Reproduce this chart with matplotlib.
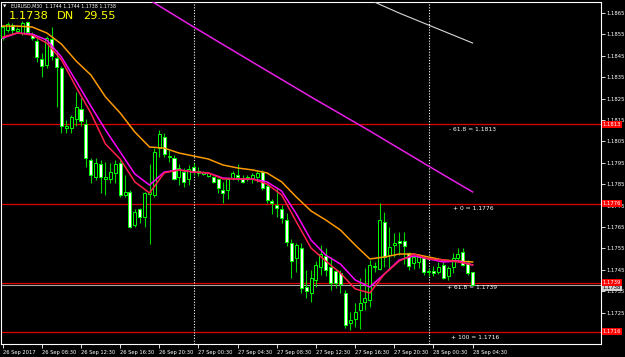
import matplotlib
matplotlib.use("Agg")
import matplotlib.pyplot as plt
import numpy as np

# EURUSD M30, 26 Sep 04:30 .. 28 Sep 04:30 (97 barras)
opens = [1.18533, 1.18571, 1.18594, 1.18566, 1.18557, 1.18608, 1.18552, 1.18519, 1.18435, 1.18407,
         1.18529, 1.18440, 1.18393, 1.18113, 1.18113, 1.18155, 1.18202, 1.18131, 1.17963, 1.17884,
         1.17945, 1.17875, 1.17875, 1.17903, 1.17949, 1.17800, 1.17814, 1.17660, 1.17734, 1.17697,
         1.17804, 1.17800, 1.18019, 1.18071, 1.17977, 1.17973, 1.17884, 1.17907, 1.17875, 1.17931,
         1.17903, 1.17898, 1.17889, 1.17884, 1.17875, 1.17823, 1.17823, 1.17879, 1.17893, 1.17875,
         1.17875, 1.17875, 1.17884, 1.17907, 1.17842, 1.17772, 1.17753, 1.17734, 1.17683, 1.17575,
         1.17505, 1.17552, 1.17370, 1.17342, 1.17403, 1.17463, 1.17515, 1.17463, 1.17445, 1.17435,
         1.17342, 1.17202, 1.17220, 1.17262, 1.17300, 1.17309, 1.17463, 1.17454, 1.17674, 1.17519,
         1.17566, 1.17585, 1.17585, 1.17529, 1.17482, 1.17487, 1.17505, 1.17440, 1.17445, 1.17440,
         1.17473, 1.17421, 1.17463, 1.17505, 1.17533, 1.17482, 1.17440]
highs = [1.18594, 1.18608, 1.18604, 1.18585, 1.18613, 1.18613, 1.18561, 1.18533, 1.18463, 1.18543,
         1.18585, 1.18477, 1.18403, 1.18150, 1.18174, 1.18281, 1.18253, 1.18155, 1.17973, 1.17973,
         1.17963, 1.17954, 1.17949, 1.17963, 1.17963, 1.17893, 1.17823, 1.17734, 1.17739, 1.17814,
         1.17945, 1.18019, 1.18104, 1.18090, 1.18010, 1.17987, 1.17945, 1.17926, 1.17940, 1.17949,
         1.17931, 1.17912, 1.17907, 1.17889, 1.17879, 1.17861, 1.17884, 1.17912, 1.17945, 1.17893,
         1.17893, 1.17903, 1.17912, 1.17917, 1.17856, 1.17781, 1.17837, 1.17753, 1.17715, 1.17594,
         1.17575, 1.17575, 1.17449, 1.17449, 1.17491, 1.17566, 1.17552, 1.17510, 1.17454, 1.17449,
         1.17356, 1.17253, 1.17295, 1.17412, 1.17459, 1.17496, 1.17487, 1.17762, 1.17720, 1.17650,
         1.17622, 1.17627, 1.17627, 1.17533, 1.17519, 1.17524, 1.17515, 1.17459, 1.17468, 1.17487,
         1.17487, 1.17468, 1.17529, 1.17552, 1.17552, 1.17496, 1.17440]
lows = [1.18524, 1.18561, 1.18547, 1.18557, 1.18547, 1.18552, 1.18524, 1.18421, 1.18351, 1.18393,
        1.18431, 1.18211, 1.18090, 1.18090, 1.18090, 1.18122, 1.18122, 1.17931, 1.17856, 1.17870,
        1.17809, 1.17800, 1.17856, 1.17856, 1.17790, 1.17790, 1.17646, 1.17650, 1.17669, 1.17650,
        1.17571, 1.17790, 1.17977, 1.17977, 1.17954, 1.17870, 1.17846, 1.17837, 1.17846, 1.17893,
        1.17889, 1.17893, 1.17884, 1.17856, 1.17809, 1.17762, 1.17781, 1.17870, 1.17865, 1.17856,
        1.17865, 1.17856, 1.17861, 1.17823, 1.17762, 1.17711, 1.17697, 1.17669, 1.17561, 1.17412,
        1.17440, 1.17342, 1.17318, 1.17300, 1.17370, 1.17426, 1.17421, 1.17356, 1.17365, 1.17342,
        1.17178, 1.17169, 1.17183, 1.17174, 1.17262, 1.17276, 1.17440, 1.17449, 1.17463, 1.17459,
        1.17510, 1.17519, 1.17477, 1.17449, 1.17454, 1.17459, 1.17426, 1.17421, 1.17421, 1.17431,
        1.17407, 1.17403, 1.17435, 1.17496, 1.17468, 1.17426, 1.17380]
closes = [1.18585, 1.18599, 1.18571, 1.18575, 1.18604, 1.18561, 1.18533, 1.18445, 1.18403, 1.18533,
          1.18449, 1.18398, 1.18122, 1.18122, 1.18164, 1.18211, 1.18146, 1.17973, 1.17893, 1.17949,
          1.17884, 1.17884, 1.17907, 1.17945, 1.17800, 1.17814, 1.17650, 1.17720, 1.17697, 1.17809,
          1.17814, 1.18001, 1.18085, 1.17991, 1.17982, 1.17875, 1.17926, 1.17861, 1.17921, 1.17907,
          1.17912, 1.17907, 1.17903, 1.17861, 1.17832, 1.17809, 1.17875, 1.17903, 1.17884, 1.17861,
          1.17884, 1.17893, 1.17903, 1.17832, 1.17776, 1.17762, 1.17739, 1.17692, 1.17580, 1.17491,
          1.17566, 1.17365, 1.17351, 1.17412, 1.17473, 1.17524, 1.17449, 1.17389, 1.17389, 1.17384,
          1.17192, 1.17216, 1.17253, 1.17295, 1.17318, 1.17473, 1.17468, 1.17683, 1.17510, 1.17557,
          1.17575, 1.17575, 1.17561, 1.17468, 1.17510, 1.17510, 1.17440, 1.17445, 1.17435, 1.17463,
          1.17412, 1.17459, 1.17505, 1.17524, 1.17473, 1.17435, 1.17380]

# medias moveis lidas a cada 3 barras
ma_idx = list(range(0, 97, 3))
ma_laranja = [1.18589, 1.18589, 1.18585, 1.18557, 1.18505, 1.18426, 1.18361, 1.18258, 1.18183, 1.18094,
              1.18024, 1.18019, 1.17996, 1.17982, 1.17968, 1.17940, 1.17926, 1.17917, 1.17903, 1.17861,
              1.17790, 1.17725, 1.17683, 1.17636, 1.17566, 1.17501, 1.17510, 1.17524, 1.17524, 1.17510,
              1.17496, 1.17491, 1.17487]
ma_magenta = [1.18533, 1.18557, 1.18552, 1.18524, 1.18445, 1.18332, 1.18216, 1.18104, 1.18001, 1.17898,
              1.17846, 1.17907, 1.17917, 1.17907, 1.17903, 1.17879, 1.17875, 1.17875, 1.17861, 1.17818,
              1.17711, 1.17589, 1.17519, 1.17477, 1.17403, 1.17370, 1.17431, 1.17496, 1.17515, 1.17501,
              1.17487, 1.17491, 1.17473]
ma_vermelha = [1.18538, 1.18557, 1.18547, 1.18510, 1.18431, 1.18304, 1.18183, 1.18038, 1.17968, 1.17861,
               1.17809, 1.17903, 1.17917, 1.17907, 1.17903, 1.17875, 1.17875, 1.17875, 1.17851, 1.17800,
               1.17674, 1.17552, 1.17491, 1.17435, 1.17361, 1.17342, 1.17431, 1.17491, 1.17524, 1.17501,
               1.17496, 1.17487, 1.17473]
ma_longa_idx = [27, 39, 51, 63, 75, 87, 96]
ma_longa = [1.18753, 1.18585, 1.18421, 1.18258, 1.18099, 1.17935, 1.17814]
ma_branca_idx = [72, 75, 81, 87, 96]
ma_branca = [1.18739, 1.18711, 1.18650, 1.18594, 1.18510]

fibo_niveis = [1.1873, 1.1813, 1.1776, 1.1739, 1.1716]
fibo_textos = ["- 161.8 = 1.1873", "- 61.8 = 1.1813", "+ 0 = 1.1776", "+ 61.8 = 1.1739", "+ 100 = 1.1716"]
fibo_x = [91.0, 91.2, 92.0, 90.8, 91.6]
bid = 1.1738
separadores = [39, 87]

x_ticks = list(range(0, 97, 8))
x_labels = ["26 Sep 2017", "26 Sep 08:30", "26 Sep 12:30", "26 Sep 16:30", "26 Sep 20:30",
            "27 Sep 00:30", "27 Sep 04:30", "27 Sep 08:30", "27 Sep 12:30", "27 Sep 16:30",
            "27 Sep 20:30", "28 Sep 00:30", "28 Sep 04:30"]
y_ticks = [1.1725, 1.1735, 1.1745, 1.1755, 1.1765, 1.1775, 1.1785, 1.1795, 1.1805,
           1.1815, 1.1825, 1.1835, 1.1845, 1.1855, 1.1865]

W, H = 625, 357
PEQ = 3.8  # fonte pequena dos eixos

fig = plt.figure(figsize=(6.25, 3.57), dpi=100, facecolor="black")
ax = fig.add_axes([1.5 / W, 1 - 344 / H, 599 / W, 342.5 / H], facecolor="black")

# velas
o = np.array(opens); c = np.array(closes)
hi = np.array(highs); lo = np.array(lows)
x = np.arange(len(o))
alta = c >= o
ax.vlines(x, lo, hi, color="#00d800", lw=0.8, zorder=2)
corpo = np.maximum(np.abs(c - o), 0.00002)
ax.bar(x, corpo, bottom=np.minimum(o, c), width=0.62,
       color=np.where(alta, "black", "white"), edgecolor="#00ff00", lw=0.7, zorder=3)

# medias
ax.plot(ma_idx, ma_laranja, color="#ff9a00", lw=1.1, zorder=4)
ax.plot(ma_idx, ma_magenta, color="#ff00ff", lw=1.1, zorder=4)
ax.plot(ma_idx, ma_vermelha, color="#ff1e4e", lw=1.1, zorder=4)
ax.plot(ma_longa_idx, ma_longa, color="#e81ee8", lw=1.1, zorder=4)
ax.plot(ma_branca_idx, ma_branca, color="#d8d8d8", lw=0.8, zorder=4)

# niveis de fibo e linha do bid
for nivel, txt, fx in zip(fibo_niveis, fibo_textos, fibo_x):
    ax.axhline(nivel, color="#e00000", lw=0.9, zorder=1)
    ax.annotate(txt, xy=(fx, nivel), xytext=(0, -2), textcoords="offset points",
                va="top", ha="left", color="white", fontsize=4.3,
                annotation_clip=False, clip_on=True)
ax.axhline(bid, color="#a8a8a8", lw=0.8, zorder=1)
for s in separadores:
    ax.axvline(s, color="white", lw=0.8, ls=(0, (1, 1.5)), zorder=1)

ax.set_xlim(-0.245, 122.13)
ax.set_ylim(1.171035, 1.18704)

for sp in ax.spines.values():
    sp.set_color("white")
    sp.set_linewidth(0.8)

ax.yaxis.tick_right()
ax.set_yticks(y_ticks)
ax.set_yticklabels([f"{v:.4f}" for v in y_ticks])
ax.set_xticks(x_ticks)
ax.set_xticklabels(x_labels, ha="left")
ax.tick_params(axis="both", colors="white", labelsize=PEQ, length=3, width=0.6, pad=1.5)
ax.tick_params(axis="x", labelsize=3.7, pad=1.5)

# etiquetas de preco no eixo
def etiqueta(preco, fundo, cor_texto, dy=0):
    ax.annotate(f"{preco:.4f}", xy=(1.0, preco), xycoords=("axes fraction", "data"),
                xytext=(1.6, dy), textcoords="offset points", va="center", ha="left",
                fontsize=PEQ, color=cor_texto, annotation_clip=False,
                bbox=dict(boxstyle="square,pad=0.2", fc=fundo, ec="none"), zorder=6)

etiqueta(bid, "#d0d0d0", "black", dy=-1.8)
for nivel in fibo_niveis[1:]:
    etiqueta(nivel, "#ff0000", "white")

# cabecalho
fig.text(3 / W, 1 - 6 / H, "\u25bc", color="white", fontsize=3.2, va="center")
fig.text(11 / W, 1 - 6 / H, "EURUSD,M30  1.1744 1.1744 1.1738 1.1738",
         color="white", fontsize=3.4, va="center")
fig.text(9 / W, 1 - 16 / H, "1.1738", color="#ffff00", fontsize=8.2, va="center")
fig.text(57 / W, 1 - 16 / H, "DN", color="#ffff00", fontsize=8.2, va="center")
fig.text(83 / W, 1 - 16 / H, "29.55", color="#ffff00", fontsize=8.2, va="center")

fig.savefig("out.png", dpi=100, facecolor="black")
